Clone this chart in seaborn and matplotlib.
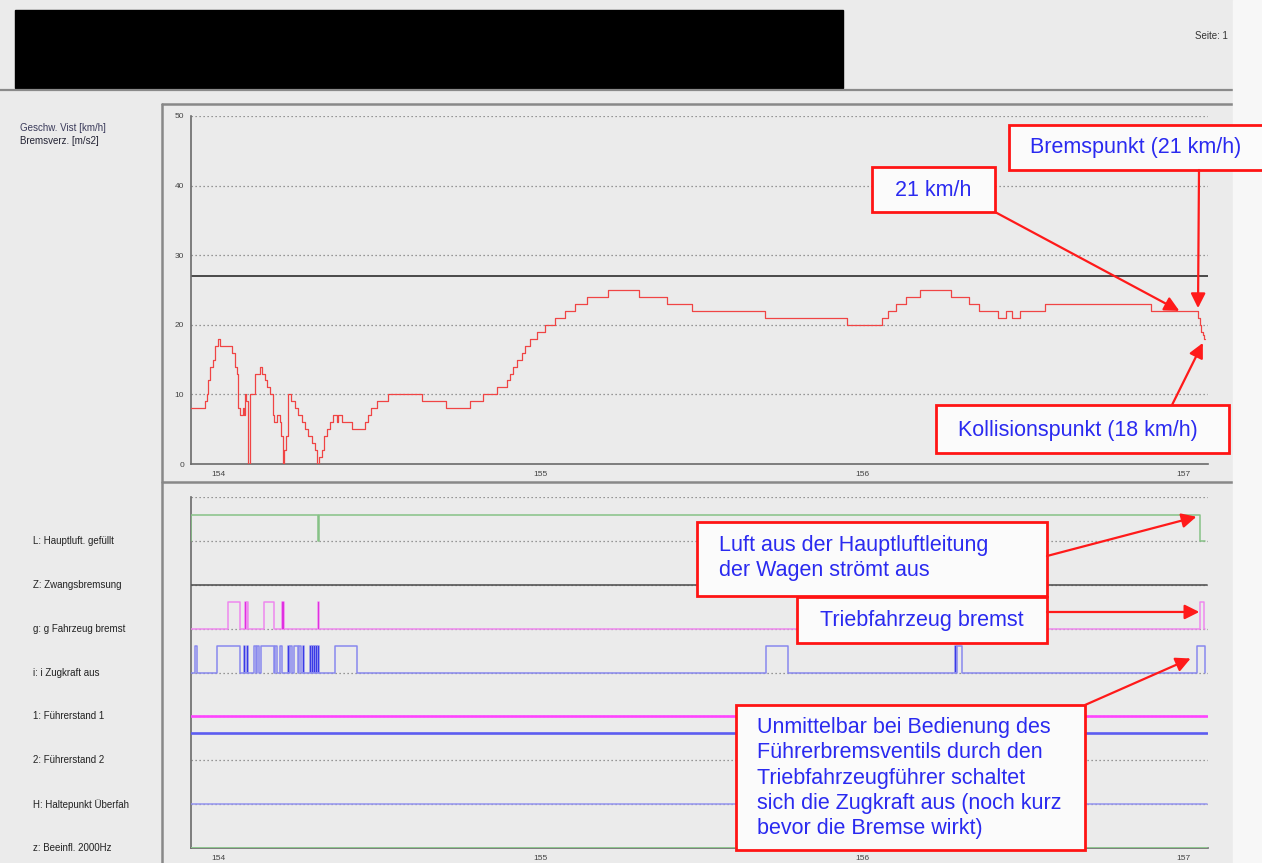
import matplotlib
matplotlib.use("Agg")
import matplotlib.pyplot as plt
import seaborn as sns
from matplotlib.patches import Rectangle, ConnectionPatch
from matplotlib.ticker import MultipleLocator

# ---- data ----
# speed record (km/h), held until the next sample
speed_t = [153.916, 153.959, 153.965, 153.970, 153.975, 153.983, 153.989, 153.999,
           154.006, 154.042, 154.053, 154.058, 154.063, 154.068, 154.077, 154.081, 154.084, 154.088, 154.092, 154.099,
           154.108, 154.115, 154.130, 154.138, 154.146, 154.153, 154.161, 154.170, 154.174, 154.182, 154.193, 154.197, 154.201, 154.205, 154.210,
           154.218, 154.226, 154.239, 154.249, 154.260, 154.270, 154.280, 154.291, 154.301, 154.308, 154.315, 154.322, 154.329,
           154.338, 154.348, 154.358, 154.369, 154.374, 154.384, 154.415, 154.457, 154.467, 154.474, 154.493, 154.529, 154.633, 154.708, 154.783, 154.824,
           154.866, 154.897, 154.907, 154.917, 154.928, 154.943, 154.954, 154.969, 154.990, 155.016, 155.047, 155.078, 155.109, 155.145, 155.212,
           155.307, 155.395, 155.471, 155.700, 155.953, 156.061, 156.080, 156.105, 156.137, 156.181, 156.276, 156.333, 156.365,
           156.422, 156.447, 156.466, 156.492, 156.568, 156.898, 157.045, 157.050, 157.054, 157.058, 157.062, 157.066]
speed_v = [8, 9, 10, 12, 14, 15, 17, 18,
           17, 16, 14, 13, 8, 7, 8, 7, 10, 9, 0, 10,
           10, 13, 14, 13, 12, 11, 10, 7, 6, 7, 6, 4, 0, 2, 4,
           10, 9, 8, 7, 6, 5, 4, 3, 2, 0, 1, 2, 4,
           5, 6, 7, 6, 7, 6, 5, 6, 7, 8, 9, 10, 9, 8, 9, 10,
           11, 12, 13, 14, 15, 16, 17, 18, 19, 20, 21, 22, 23, 24, 25,
           24, 23, 22, 21, 20, 21, 22, 23, 24, 25, 24, 23, 22,
           21, 22, 21, 22, 23, 22, 21, 20, 19, 18.5, 18, 18]
speed_limit = 27

x_start, x_end = 153.916, 157.066
x_ticks = [154, 155, 156, 157]
x_tick_labels = ["154", "155", "156", "157"]
speed_ticks = [0, 10, 20, 30, 40, 50]

# digital channels (lower panel), top to bottom
channel_labels = ["L: Hauptluft. gefüllt", "Z: Zwangsbremsung", "g: g Fahrzeug bremst", "i: i Zugkraft aus",
                  "1: Führerstand 1", "2: Führerstand 2", "H: Haltepunkt Überfah", "z: Beeinfl. 2000Hz"]
channel_rows = [7, 6, 5, 4, 3, 2, 1, 0]

# intervals where a channel is "on"
L_on = [(153.916, 154.311), (154.313, 157.050)]
g_on = [(154.031, 154.068), (154.084, 154.086), (154.089, 154.092), (154.143, 154.174),
        (154.199, 154.201), (154.203, 154.205), (154.311, 154.313), (157.050, 157.064)]
i_on = [(153.929, 153.934), (153.997, 154.068), (154.081, 154.084), (154.090, 154.093),
        (154.112, 154.118), (154.121, 154.127), (154.133, 154.174), (154.177, 154.183),
        (154.193, 154.199), (154.217, 154.221), (154.224, 154.230), (154.236, 154.249),
        (154.252, 154.258), (154.264, 154.267), (154.286, 154.289), (154.292, 154.295),
        (154.298, 154.301), (154.304, 154.307), (154.310, 154.314), (154.363, 154.432),
        (155.702, 155.770), (156.289, 156.292), (156.295, 156.311), (157.040, 157.066)]
fs2_on = [(x_start, 157.072)]

BG = "#ebebeb"
BLUE_TXT = "#2a2af0"


def square_wave(intervals, base, amp=0.6, lo=x_start, hi=x_end):
    xs, ys = [lo], [base]
    for a, b in intervals:
        xs += [a, a, b, b]
        ys += [base, base + amp, base + amp, base]
    xs.append(hi)
    ys.append(base)
    return xs, ys


sns.set_style("white")
plt.rcParams["font.family"] = ["Liberation Sans", "DejaVu Sans"]

fig = plt.figure(figsize=(12.62, 8.63), dpi=100)
fig.patch.set_facecolor(BG)

# background decoration in pixel coordinates
deco = fig.add_axes([0, 0, 1, 1], zorder=0)
deco.set_xlim(0, 1262)
deco.set_ylim(863, 0)
deco.axis("off")
deco.add_patch(Rectangle((15, 10), 828, 78, color="black", zorder=1))
deco.plot([0, 1233], [90, 90], color="#8a8a8a", lw=1.6)
deco.plot([162, 1233], [104, 104], color="#888888", lw=1.8)
deco.plot([162, 1233], [482, 482], color="#888888", lw=1.8)
deco.plot([162, 162], [104, 863], color="#888888", lw=1.8)
deco.text(1195, 36, "Seite: 1", fontsize=7, color="#333333", va="center", zorder=1)
deco.add_patch(Rectangle((1233, 0), 29, 863, color="#f7f7f7", zorder=2))
deco.text(20, 128, "Geschw. Vist [km/h]", fontsize=7, color="#3a3a5a", va="center")
deco.text(20, 141, "Bremsverz. [m/s2]", fontsize=7, color="#222233", va="center")

# ---- upper panel: speed ----
ax_top = fig.add_axes([191 / 1262, 399 / 863, 1017 / 1262, 348 / 863], zorder=1)
ax_top.patch.set_alpha(0)
for y in speed_ticks[1:]:
    ax_top.axhline(y, color="#7a7a7a", lw=0.9, ls=(0, (1, 2.2)), zorder=1)
ax_top.axhline(speed_limit, color="#3c3c3c", lw=1.3, zorder=2)
sns.lineplot(x=speed_t, y=speed_v, ax=ax_top, color="#f04444", lw=0.9,
             drawstyle="steps-post", sort=False, estimator=None, zorder=3)
ax_top.set_xlim(x_start, 157.075)
ax_top.set_ylim(0, 50)
ax_top.set_yticks(speed_ticks)
ax_top.set_yticklabels([str(t) for t in speed_ticks])
ax_top.yaxis.set_minor_locator(MultipleLocator(5))

# ---- lower panel: digital channels ----
ax_bot = fig.add_axes([191 / 1262, 15 / 863, 1017 / 1262, 351 / 863], zorder=1)
ax_bot.patch.set_alpha(0)
for r in range(0, 9):
    ax_bot.axhline(r, color="#7a7a7a", lw=0.9, ls=(0, (1, 2.2)), zorder=1)

xs, ys = square_wave(L_on, 7)
sns.lineplot(x=xs, y=ys, ax=ax_bot, color="#86c286", lw=1.1, sort=False, estimator=None, zorder=3)
sns.lineplot(x=[x_start, 157.072], y=[6, 6], ax=ax_bot, color="#555555", lw=1.2, estimator=None, zorder=3)
xs, ys = square_wave(g_on, 5)
sns.lineplot(x=xs, y=ys, ax=ax_bot, color="#ee88ee", lw=1.1, sort=False, estimator=None, zorder=3)
xs, ys = square_wave(i_on, 4)
sns.lineplot(x=xs, y=ys, ax=ax_bot, color="#8888ee", lw=1.1, sort=False, estimator=None, zorder=3)
for a, b in i_on:
    if b - a < 0.0045:
        ax_bot.fill_between([a, b], 4, 4.6, color="#3a3ae6", lw=0, zorder=4)
for a, b in g_on:
    if b - a < 0.003:
        ax_bot.fill_between([a, b], 5, 5.6, color="#e030e0", lw=0, zorder=4)
sns.lineplot(x=[x_start, 157.072], y=[3, 3], ax=ax_bot, color="#ff44ff", lw=1.9, estimator=None, zorder=3)
xs, ys = square_wave(fs2_on, 2, amp=0.62, hi=157.072)
sns.lineplot(x=xs[2:-2], y=ys[2:-2], ax=ax_bot, color="#5c5cf0", lw=1.9, sort=False, estimator=None, zorder=3)
sns.lineplot(x=[x_start, 157.072], y=[1, 1], ax=ax_bot, color="#9494f0", lw=1.1, estimator=None, zorder=3)
sns.lineplot(x=[x_start, 157.072], y=[0, 0], ax=ax_bot, color="#90c890", lw=1.4, estimator=None, zorder=3)
ax_bot.set_xlim(x_start, 157.075)
ax_bot.set_ylim(0, 8)
ax_bot.set_yticks(range(0, 9))
ax_bot.set_yticklabels([])
for lab, r in zip(channel_labels, channel_rows):
    ax_bot.text(-0.1554, r, lab, transform=ax_bot.get_yaxis_transform(),
                fontsize=7, color="#222222", va="center", ha="left")

for ax in (ax_top, ax_bot):
    for s in ("top", "right"):
        ax.spines[s].set_visible(False)
    for s in ("left", "bottom"):
        ax.spines[s].set_color("#6a6a6a")
        ax.spines[s].set_linewidth(1.2)
    ax.set_xticks(x_ticks)
    ax.set_xticklabels(x_tick_labels)
    ax.xaxis.set_minor_locator(MultipleLocator(0.5))
    ax.tick_params(which="both", length=3, width=0.8, color="#555555",
                   labelsize=6, labelcolor="#444444", pad=2)
    ax.set_xlabel("")
    ax.set_ylabel("")
    ax.grid(False)

# ---- callouts ----
ann = fig.add_axes([0, 0, 1, 1], zorder=5)
ann.set_xlim(0, 1262)
ann.set_ylim(863, 0)
ann.axis("off")
ann.patch.set_alpha(0)

boxes = [
    ((1009, 125, 260, 45), (1030, 148), "Bremspunkt (21 km/h)", "left"),
    ((872, 167, 123, 45), (933, 190), "21 km/h", "center"),
    ((936, 405, 293, 48), (1078, 430), "Kollisionspunkt (18 km/h)", "center"),
    ((697, 522, 350, 74), (719, 558), "Luft aus der Hauptluftleitung\nder Wagen strömt aus", "left"),
    ((797, 597, 250, 46), (922, 620), "Triebfahrzeug bremst", "center"),
    ((736, 705, 349, 145), (757, 778),
     "Unmittelbar bei Bedienung des\nFührerbremsventils durch den\nTriebfahrzeugführer schaltet\n"
     "sich die Zugkraft aus (noch kurz\nbevor die Bremse wirkt)", "left"),
]
for (bx, by, bw, bh), (tx, ty), txt, ha in boxes:
    ann.add_patch(Rectangle((bx, by), bw, bh, facecolor="#fbfbfb", edgecolor="#ff1414", lw=2.0, zorder=2))
    ann.text(tx, ty, txt, fontsize=15.5, color=BLUE_TXT, ha=ha, va="center", linespacing=1.27, zorder=3)

arrows = [
    ((1199, 170), ax_top, (157.044, 22.4)),
    ((995, 212), ax_top, (156.986, 22.0)),
    ((1172, 405), ax_top, (157.059, 17.4)),
    ((1047, 556), ax_bot, (157.039, 7.55)),
    ((1047, 612), ax_bot, (157.048, 5.38)),
    ((1085, 705), ax_bot, (157.021, 4.32)),
]
for start, target_ax, tip in arrows:
    con = ConnectionPatch(xyA=start, coordsA=ann.transData, xyB=tip, coordsB=target_ax.transData,
                          arrowstyle="-|>", mutation_scale=22, color="#ff1a1a", lw=1.6, zorder=6)
    fig.add_artist(con)

fig.savefig("out.png", dpi=100, facecolor=BG)
